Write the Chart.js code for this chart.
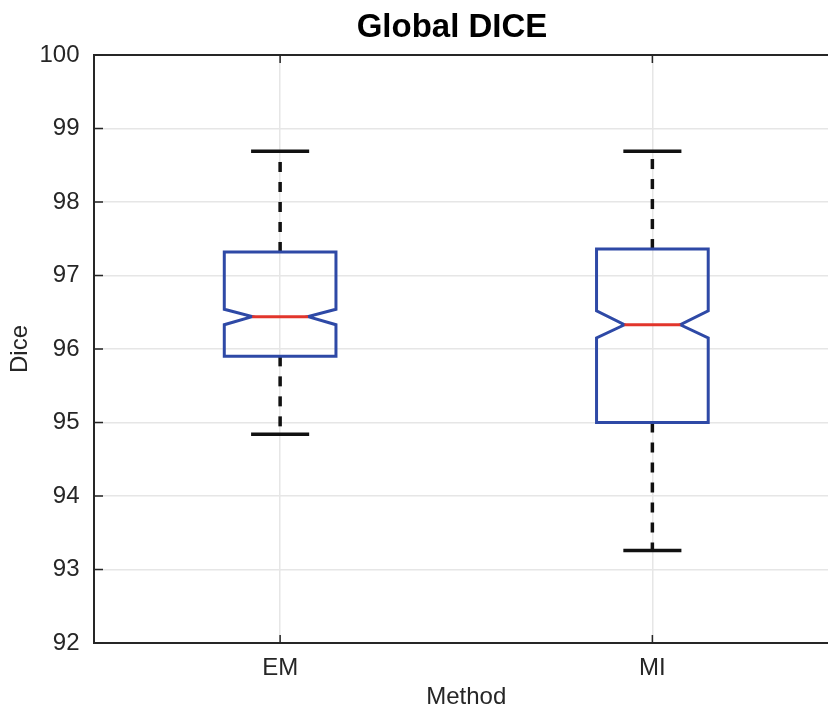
<!DOCTYPE html>
<html>
<head>
<meta charset="utf-8">
<title>Global DICE</title>
<script src="https://cdn.jsdelivr.net/npm/chart.js@4.4.0/dist/chart.umd.min.js"></script>
<style>
  html, body { margin: 0; padding: 0; background: #fff; overflow: hidden; }
  canvas { display: block; }
</style>
</head>
<body>
<canvas id="diceChart" width="904" height="706"></canvas>
<script>
// boxplot summary per method
const categories = ['EM', 'MI'];
const whiskerLow = [94.84, 93.26];
const q1 = [95.90, 95.00];
const notchLow = [96.33, 96.15];
const medians = [96.44, 96.33];
const notchHigh = [96.54, 96.52];
const q3 = [97.32, 97.36];
const whiskerHigh = [98.69, 98.69];
const yTicks = [92, 93, 94, 95, 96, 97, 98, 99, 100];

const BOX_HALF = 0.15;
const NOTCH_HALF = 0.075;
const CAP_HALF = 0.078;

const BLUE = '#2e49a6';
const RED = '#e2352b';
const BLACK = '#111111';
const AXIS_COLOR = '#262626';
const GRID_COLOR = '#e6e6e6';
const FONT = '"Liberation Sans", Arial, Helvetica, sans-serif';

const lineDefaults = { pointRadius: 0, pointHoverRadius: 0, tension: 0, fill: false, borderJoinStyle: 'miter', borderCapStyle: 'butt' };

let datasets = [];
categories.forEach((name, i) => {
    const x = i + 1;
    datasets.push(Object.assign({}, lineDefaults, {
        label: name + ' median',
        data: [{ x: x - NOTCH_HALF, y: medians[i] }, { x: x + NOTCH_HALF, y: medians[i] }],
        borderColor: RED, borderWidth: 3, order: 0
    }));
    datasets.push(Object.assign({}, lineDefaults, {
        label: name + ' box',
        data: [
            { x: x, y: q1[i] },
            { x: x + BOX_HALF, y: q1[i] },
            { x: x + BOX_HALF, y: notchLow[i] },
            { x: x + NOTCH_HALF, y: medians[i] },
            { x: x + BOX_HALF, y: notchHigh[i] },
            { x: x + BOX_HALF, y: q3[i] },
            { x: x - BOX_HALF, y: q3[i] },
            { x: x - BOX_HALF, y: notchHigh[i] },
            { x: x - NOTCH_HALF, y: medians[i] },
            { x: x - BOX_HALF, y: notchLow[i] },
            { x: x - BOX_HALF, y: q1[i] },
            { x: x, y: q1[i] }
        ],
        borderColor: BLUE, borderWidth: 3, order: 1
    }));
    datasets.push(Object.assign({}, lineDefaults, {
        label: name + ' upper cap',
        data: [{ x: x - CAP_HALF, y: whiskerHigh[i] }, { x: x + CAP_HALF, y: whiskerHigh[i] }],
        borderColor: BLACK, borderWidth: 3.5, order: 2
    }));
    datasets.push(Object.assign({}, lineDefaults, {
        label: name + ' lower cap',
        data: [{ x: x - CAP_HALF, y: whiskerLow[i] }, { x: x + CAP_HALF, y: whiskerLow[i] }],
        borderColor: BLACK, borderWidth: 3.5, order: 2
    }));
    datasets.push(Object.assign({}, lineDefaults, {
        label: name + ' upper whisker',
        data: [{ x: x, y: q3[i] }, { x: x, y: whiskerHigh[i] }],
        borderColor: BLACK, borderWidth: 3.5, borderDash: [10, 10], order: 3
    }));
    datasets.push(Object.assign({}, lineDefaults, {
        label: name + ' lower whisker',
        data: [{ x: x, y: q1[i] }, { x: x, y: whiskerLow[i] }],
        borderColor: BLACK, borderWidth: 3.5, borderDash: [10, 10], order: 3
    }));
});

// top border plus the inward tick marks matlab draws
const frameLines = {
    id: 'frameLines',
    afterDraw(chart) {
        const { ctx, chartArea: a, scales } = chart;
        ctx.save();
        ctx.strokeStyle = AXIS_COLOR;
        ctx.lineWidth = 2;
        ctx.beginPath();
        ctx.moveTo(a.left, a.top);
        ctx.lineTo(a.right, a.top);
        ctx.stroke();
        ctx.lineWidth = 1.5;
        ctx.beginPath();
        scales.y.ticks.forEach(t => {
            const py = scales.y.getPixelForValue(t.value);
            ctx.moveTo(a.left, py);
            ctx.lineTo(a.left + 9, py);
        });
        scales.x.ticks.forEach(t => {
            const px = scales.x.getPixelForValue(t.value);
            ctx.moveTo(px, a.top);
            ctx.lineTo(px, a.top + 8);
            ctx.moveTo(px, a.bottom);
            ctx.lineTo(px, a.bottom - 8);
        });
        ctx.stroke();
        ctx.restore();
    }
};

new Chart(document.getElementById('diceChart'), {
    type: 'line',
    data: { datasets: datasets },
    plugins: [frameLines],
    options: {
        responsive: false,
        animation: false,
        devicePixelRatio: 1,
        layout: { padding: 0 },
        plugins: {
            legend: { display: false },
            tooltip: { enabled: false },
            title: {
                display: true,
                text: 'Global DICE',
                color: '#000',
                font: { family: FONT, size: 33, weight: 'bold', lineHeight: 1.2 },
                padding: { top: 8, bottom: 7.4 }
            }
        },
        scales: {
            x: {
                type: 'linear',
                min: 0.5,
                max: 2.5,
                afterBuildTicks: scale => { scale.ticks = categories.map((c, i) => ({ value: i + 1 })); },
                afterFit: scale => { scale.height = 63; },
                ticks: {
                    color: AXIS_COLOR,
                    padding: 11,
                    font: { family: FONT, size: 24 },
                    callback: value => categories[value - 1]
                },
                grid: { color: GRID_COLOR, lineWidth: 1.5, drawTicks: false },
                border: { display: true, color: AXIS_COLOR, width: 2 },
                title: {
                    display: true,
                    text: 'Method',
                    color: AXIS_COLOR,
                    font: { family: FONT, size: 24, lineHeight: 0.7 },
                    padding: 0
                }
            },
            y: {
                type: 'linear',
                min: 92,
                max: 100,
                afterBuildTicks: scale => { scale.ticks = yTicks.map(v => ({ value: v })); },
                afterFit: scale => { scale.width = 94; },
                ticks: {
                    color: AXIS_COLOR,
                    padding: 14.5,
                    font: { family: FONT, size: 24 }
                },
                grid: { color: GRID_COLOR, lineWidth: 1.5, drawTicks: false },
                border: { display: true, color: AXIS_COLOR, width: 2 },
                title: {
                    display: true,
                    text: 'Dice',
                    color: AXIS_COLOR,
                    font: { family: FONT, size: 24, lineHeight: 1.2 },
                    padding: { top: 6, bottom: 0 }
                }
            },
            // empty right axis so the title centres like the original
            yRight: {
                type: 'linear',
                position: 'right',
                min: 92,
                max: 100,
                afterFit: scale => { scale.width = 65.5; },
                ticks: { display: false },
                grid: { display: false },
                border: { display: false }
            }
        }
    }
});
</script>
</body>
</html>
